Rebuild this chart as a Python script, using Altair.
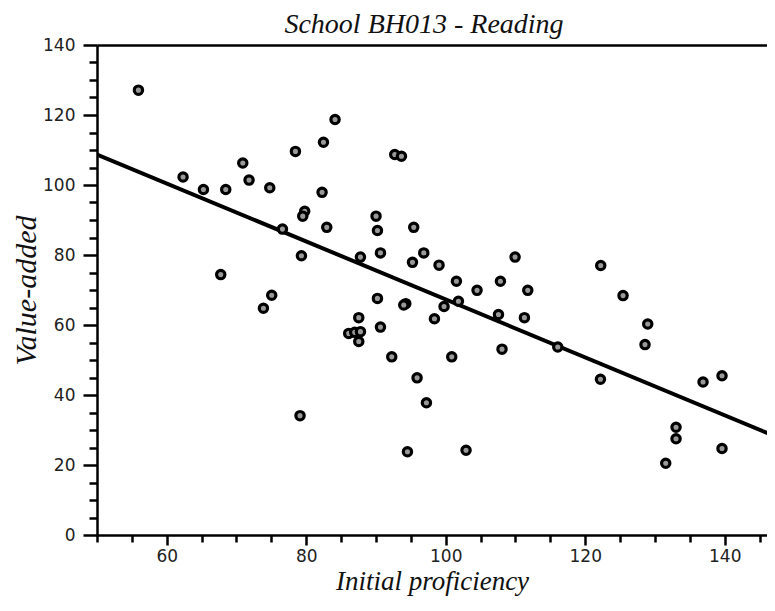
import altair as alt
import pandas as pd

# ---- data ----
x_vals = [55.94, 62.34, 65.26, 68.46, 70.90, 71.80, 74.77, 78.45, 82.47, 84.13,
          82.27, 79.78, 79.50, 76.59, 82.94, 79.31, 67.74, 75.05, 73.86, 79.11,
          92.69, 93.65, 90.01, 90.21, 95.41, 90.64, 87.77, 96.85, 95.23, 99.04,
          109.94, 101.53, 107.84, 104.49, 111.76, 90.21, 94.27, 93.98, 99.76, 101.82,
          107.56, 111.28, 87.53, 98.38, 90.64, 86.09, 86.95, 87.77, 87.53, 92.26,
          100.86, 108.07, 116.06, 95.89, 97.23, 94.51, 102.91, 125.42, 128.96, 128.57,
          122.18, 136.89, 139.61, 133.02, 133.02, 139.61, 131.54, 122.22]
y_vals = [127.1, 102.3, 98.7, 98.7, 106.3, 101.4, 99.2, 109.6, 112.2, 118.7,
          97.9, 92.5, 91.1, 87.4, 87.9, 79.8, 74.4, 68.5, 64.8, 34.1,
          108.7, 108.2, 91.1, 87.0, 87.9, 80.6, 79.4, 80.6, 77.9, 77.1,
          79.4, 72.5, 72.5, 69.9, 69.9, 67.6, 66.1, 65.7, 65.3, 66.8,
          63.0, 62.1, 62.1, 61.8, 59.4, 57.6, 57.9, 58.1, 55.3, 50.9,
          50.9, 53.1, 53.7, 44.9, 37.8, 23.8, 24.2, 68.4, 60.3, 54.4,
          44.5, 43.7, 45.5, 30.8, 27.5, 24.7, 20.5, 77.0]

fit_x = [50, 150]
fit_y = [108.7, 25.9]

title_text = "School BH013 - Reading"
x_title = "Initial proficiency"
y_title = "Value-added"
x_tick_values = list(range(50, 150, 5))
y_tick_values = list(range(0, 141, 5))

pts = pd.DataFrame({"x": x_vals, "y": y_vals})
fit = pd.DataFrame({"x": fit_x, "y": fit_y})

SERIF = "Liberation Serif"
SANS = "DejaVu Sans"

xscale = alt.Scale(domain=[50, 146.06], nice=False, zero=False)
yscale = alt.Scale(domain=[0, 140], nice=False, zero=False)

y_axis = alt.Axis(
    values=y_tick_values,
    labelExpr="datum.value % 20 === 0 ? datum.label : ''",
    tickSize={"condition": {"test": "datum.value % 20 === 0", "value": 14}, "value": 8},
    tickWidth=2.5, tickColor="black",
    domainColor="black", domainWidth=2.5,
    labelFont=SANS, labelFontSize=17, labelColor="#222222", labelPadding=8,
    title=y_title, titleFont=SERIF, titleFontStyle="italic", titleFontWeight="normal",
    titleFontSize=30, titleColor="#111111", titlePadding=1,
    grid=False,
)

x_axis_bottom = alt.Axis(
    values=x_tick_values,
    labelExpr="datum.value % 20 === 0 ? datum.label : ''",
    tickSize={"condition": {"test": "datum.value % 20 === 0", "value": 10}, "value": 7},
    tickWidth=2.5, tickColor="black",
    domainColor="black", domainWidth=2.5,
    labelFont=SANS, labelFontSize=17, labelColor="#222222", labelPadding=3,
    labelFlush=False,
    title=x_title, titleFont=SERIF, titleFontStyle="italic", titleFontWeight="normal",
    titleFontSize=27, titleColor="#111111", titlePadding=4,
    grid=False,
)

x_axis_top = alt.Axis(
    orient="top", labels=False, ticks=False, domain=True,
    domainColor="black", domainWidth=2.5, title=None, grid=False,
)

line = alt.Chart(fit).mark_line(color="black", strokeWidth=4, clip=True).encode(
    x=alt.X("x:Q", scale=xscale, axis=x_axis_top),
    y=alt.Y("y:Q", scale=yscale, axis=y_axis),
)

points = alt.Chart(pts).mark_point(
    shape="circle", filled=True, fill="#999999", stroke="black",
    strokeWidth=3.2, size=69, opacity=1, clip=True,
).encode(
    x=alt.X("x:Q", scale=xscale, axis=x_axis_bottom),
    y=alt.Y("y:Q", scale=yscale, axis=y_axis),
)

chart = alt.layer(line, points).resolve_axis(x="independent").properties(
    width=670,
    height=490,
    autosize=alt.AutoSizeParams(type="none"),
    padding={"left": 89, "top": 37, "right": 0, "bottom": 62},
    title=alt.TitleParams(
        text=title_text, font=SERIF, fontStyle="italic", fontWeight="normal",
        fontSize=28, color="#111111", anchor="middle", dx=-8, offset=-3,
    ),
).configure_view(stroke=None)

chart.save("out.html", embed_options={"renderer": "svg", "actions": False})
